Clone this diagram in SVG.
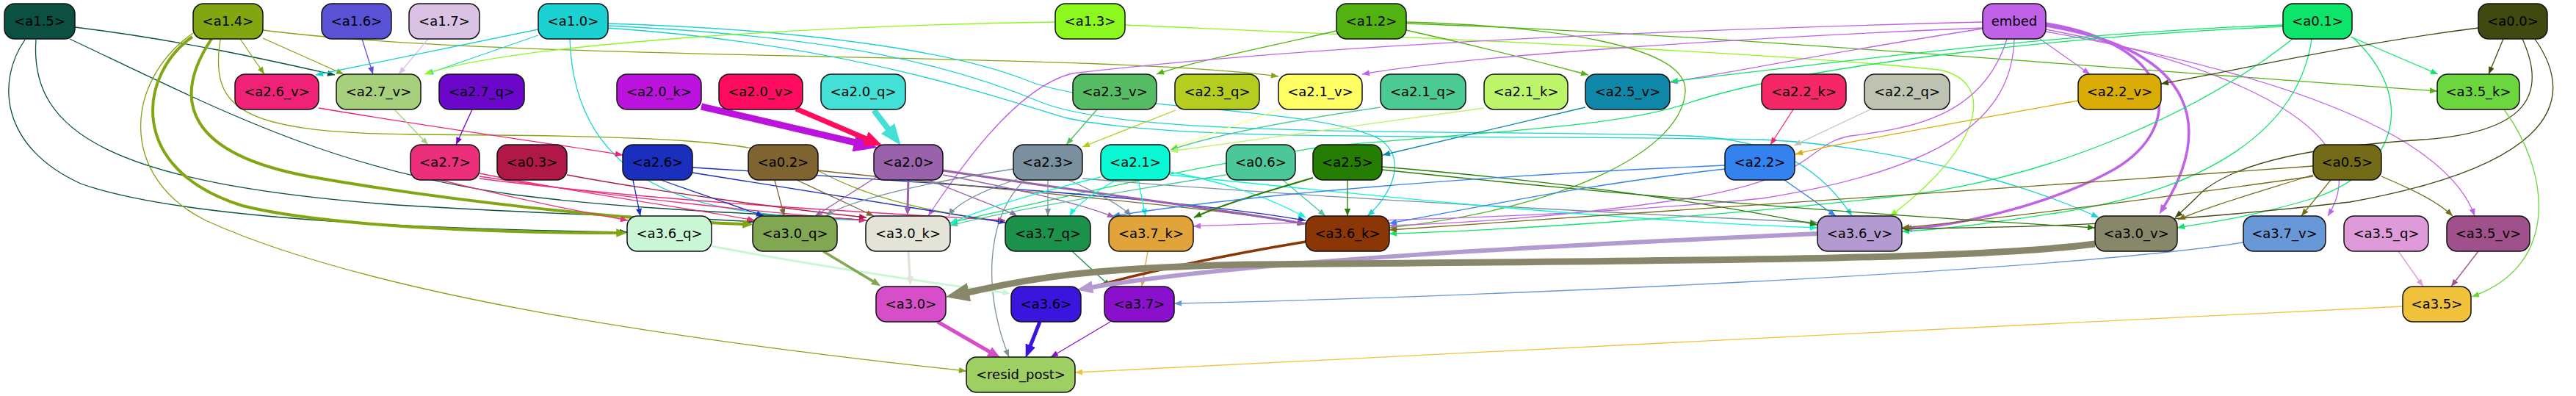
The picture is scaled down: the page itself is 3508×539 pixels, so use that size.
<svg xmlns="http://www.w3.org/2000/svg" width="3508" height="539" viewBox="0 0 3508 539">
<style>
.n rect{stroke:#111;stroke-width:1.5}
.n text{font-family:"DejaVu Sans","Liberation Sans",sans-serif;font-size:18px;text-anchor:middle;fill:#000}
#edges path{fill:none;stroke-width:1.3}
.s15{stroke:#0b5040;marker-end:url(#t15)}
.s14{stroke:#82a512;marker-end:url(#t14)}
.s16{stroke:#5a52d5;marker-end:url(#t16)}
.s17{stroke:#d9c2e3;marker-end:url(#t17)}
.s10{stroke:#1bd1d1;marker-end:url(#t10)}
.s13{stroke:#8cf81e;marker-end:url(#t13)}
.s12{stroke:#52b212;marker-end:url(#t12)}
.sem{stroke:#c062e8;marker-end:url(#tem)}
.s01{stroke:#0de46a;marker-end:url(#t01)}
.s00{stroke:#404a10;marker-end:url(#t00)}
.s26v{stroke:#f02277;marker-end:url(#t26v)}
.s27v{stroke:#a6d07c;marker-end:url(#t27v)}
.s27q{stroke:#6a07cb;marker-end:url(#t27q)}
.s20k{stroke:#bc12de}
.s20v{stroke:#ff0b60}
.s20q{stroke:#42e0d6}
.s23v{stroke:#56bc63;marker-end:url(#t23v)}
.s23q{stroke:#b5cd1f;marker-end:url(#t23q)}
.s21v{stroke:#ffff64;marker-end:url(#t21v)}
.s21q{stroke:#4bca94;marker-end:url(#t21q)}
.s21k{stroke:#bdf56a;marker-end:url(#t21k)}
.s25v{stroke:#0f87a9;marker-end:url(#t25v)}
.s22k{stroke:#f52766;marker-end:url(#t22k)}
.s22q{stroke:#bdc3b0;marker-end:url(#t22q)}
.s22v{stroke:#d9ad05;marker-end:url(#t22v)}
.s35k{stroke:#6cd63e;marker-end:url(#t35k)}
.s27{stroke:#eb2f7a;marker-end:url(#t27)}
.s03{stroke:#b01848;marker-end:url(#t03)}
.s26{stroke:#1a2fbe;marker-end:url(#t26)}
.s02{stroke:#7f6331;marker-end:url(#t02)}
.s20{stroke:#9a62aa;marker-end:url(#t20)}
.s23{stroke:#7a909e;marker-end:url(#t23)}
.s21{stroke:#0af8d4;marker-end:url(#t21)}
.s06{stroke:#4cc79a;marker-end:url(#t06)}
.s25{stroke:#267d04;marker-end:url(#t25)}
.s22{stroke:#3482ee;marker-end:url(#t22)}
.s05{stroke:#746b18;marker-end:url(#t05)}
.s36q{stroke:#c9f7d5}
.s30q{stroke:#82a752}
.s30k{stroke:#e4e3d8}
.s37q{stroke:#1b914c;marker-end:url(#t37q)}
.s37k{stroke:#e0a43a;marker-end:url(#t37k)}
.s36k{stroke:#8a3606}
.s36v{stroke:#b39bd2}
.s30v{stroke:#89876a}
.s37v{stroke:#6898d8;marker-end:url(#t37v)}
.s35q{stroke:#df9ad9;marker-end:url(#t35q)}
.s35v{stroke:#a0508a;marker-end:url(#t35v)}
.s30{stroke:#d74fc8}
.s36{stroke:#3a15dd}
.s37{stroke:#8a10ce;marker-end:url(#t37)}
.s35{stroke:#f0c23c;marker-end:url(#t35)}
</style>
<defs>
<marker id="t15" viewBox="0 0 10 8" refX="10" refY="4" markerWidth="11" markerHeight="8" markerUnits="userSpaceOnUse" orient="auto"><path d="M0,0L10,4L0,8z" fill="#0b5040"/></marker>
<marker id="t14" viewBox="0 0 10 8" refX="10" refY="4" markerWidth="11" markerHeight="8" markerUnits="userSpaceOnUse" orient="auto"><path d="M0,0L10,4L0,8z" fill="#82a512"/></marker>
<marker id="t16" viewBox="0 0 10 8" refX="10" refY="4" markerWidth="11" markerHeight="8" markerUnits="userSpaceOnUse" orient="auto"><path d="M0,0L10,4L0,8z" fill="#5a52d5"/></marker>
<marker id="t17" viewBox="0 0 10 8" refX="10" refY="4" markerWidth="11" markerHeight="8" markerUnits="userSpaceOnUse" orient="auto"><path d="M0,0L10,4L0,8z" fill="#d9c2e3"/></marker>
<marker id="t10" viewBox="0 0 10 8" refX="10" refY="4" markerWidth="11" markerHeight="8" markerUnits="userSpaceOnUse" orient="auto"><path d="M0,0L10,4L0,8z" fill="#1bd1d1"/></marker>
<marker id="t13" viewBox="0 0 10 8" refX="10" refY="4" markerWidth="11" markerHeight="8" markerUnits="userSpaceOnUse" orient="auto"><path d="M0,0L10,4L0,8z" fill="#8cf81e"/></marker>
<marker id="t12" viewBox="0 0 10 8" refX="10" refY="4" markerWidth="11" markerHeight="8" markerUnits="userSpaceOnUse" orient="auto"><path d="M0,0L10,4L0,8z" fill="#52b212"/></marker>
<marker id="tem" viewBox="0 0 10 8" refX="10" refY="4" markerWidth="11" markerHeight="8" markerUnits="userSpaceOnUse" orient="auto"><path d="M0,0L10,4L0,8z" fill="#c062e8"/></marker>
<marker id="t01" viewBox="0 0 10 8" refX="10" refY="4" markerWidth="11" markerHeight="8" markerUnits="userSpaceOnUse" orient="auto"><path d="M0,0L10,4L0,8z" fill="#0de46a"/></marker>
<marker id="t00" viewBox="0 0 10 8" refX="10" refY="4" markerWidth="11" markerHeight="8" markerUnits="userSpaceOnUse" orient="auto"><path d="M0,0L10,4L0,8z" fill="#404a10"/></marker>
<marker id="t26v" viewBox="0 0 10 8" refX="10" refY="4" markerWidth="11" markerHeight="8" markerUnits="userSpaceOnUse" orient="auto"><path d="M0,0L10,4L0,8z" fill="#f02277"/></marker>
<marker id="t27v" viewBox="0 0 10 8" refX="10" refY="4" markerWidth="11" markerHeight="8" markerUnits="userSpaceOnUse" orient="auto"><path d="M0,0L10,4L0,8z" fill="#a6d07c"/></marker>
<marker id="t27q" viewBox="0 0 10 8" refX="10" refY="4" markerWidth="11" markerHeight="8" markerUnits="userSpaceOnUse" orient="auto"><path d="M0,0L10,4L0,8z" fill="#6a07cb"/></marker>
<marker id="t23v" viewBox="0 0 10 8" refX="10" refY="4" markerWidth="11" markerHeight="8" markerUnits="userSpaceOnUse" orient="auto"><path d="M0,0L10,4L0,8z" fill="#56bc63"/></marker>
<marker id="t23q" viewBox="0 0 10 8" refX="10" refY="4" markerWidth="11" markerHeight="8" markerUnits="userSpaceOnUse" orient="auto"><path d="M0,0L10,4L0,8z" fill="#b5cd1f"/></marker>
<marker id="t21v" viewBox="0 0 10 8" refX="10" refY="4" markerWidth="11" markerHeight="8" markerUnits="userSpaceOnUse" orient="auto"><path d="M0,0L10,4L0,8z" fill="#ffff64"/></marker>
<marker id="t21q" viewBox="0 0 10 8" refX="10" refY="4" markerWidth="11" markerHeight="8" markerUnits="userSpaceOnUse" orient="auto"><path d="M0,0L10,4L0,8z" fill="#4bca94"/></marker>
<marker id="t21k" viewBox="0 0 10 8" refX="10" refY="4" markerWidth="11" markerHeight="8" markerUnits="userSpaceOnUse" orient="auto"><path d="M0,0L10,4L0,8z" fill="#bdf56a"/></marker>
<marker id="t25v" viewBox="0 0 10 8" refX="10" refY="4" markerWidth="11" markerHeight="8" markerUnits="userSpaceOnUse" orient="auto"><path d="M0,0L10,4L0,8z" fill="#0f87a9"/></marker>
<marker id="t22k" viewBox="0 0 10 8" refX="10" refY="4" markerWidth="11" markerHeight="8" markerUnits="userSpaceOnUse" orient="auto"><path d="M0,0L10,4L0,8z" fill="#f52766"/></marker>
<marker id="t22q" viewBox="0 0 10 8" refX="10" refY="4" markerWidth="11" markerHeight="8" markerUnits="userSpaceOnUse" orient="auto"><path d="M0,0L10,4L0,8z" fill="#bdc3b0"/></marker>
<marker id="t22v" viewBox="0 0 10 8" refX="10" refY="4" markerWidth="11" markerHeight="8" markerUnits="userSpaceOnUse" orient="auto"><path d="M0,0L10,4L0,8z" fill="#d9ad05"/></marker>
<marker id="t35k" viewBox="0 0 10 8" refX="10" refY="4" markerWidth="11" markerHeight="8" markerUnits="userSpaceOnUse" orient="auto"><path d="M0,0L10,4L0,8z" fill="#6cd63e"/></marker>
<marker id="t27" viewBox="0 0 10 8" refX="10" refY="4" markerWidth="11" markerHeight="8" markerUnits="userSpaceOnUse" orient="auto"><path d="M0,0L10,4L0,8z" fill="#eb2f7a"/></marker>
<marker id="t03" viewBox="0 0 10 8" refX="10" refY="4" markerWidth="11" markerHeight="8" markerUnits="userSpaceOnUse" orient="auto"><path d="M0,0L10,4L0,8z" fill="#b01848"/></marker>
<marker id="t26" viewBox="0 0 10 8" refX="10" refY="4" markerWidth="11" markerHeight="8" markerUnits="userSpaceOnUse" orient="auto"><path d="M0,0L10,4L0,8z" fill="#1a2fbe"/></marker>
<marker id="t02" viewBox="0 0 10 8" refX="10" refY="4" markerWidth="11" markerHeight="8" markerUnits="userSpaceOnUse" orient="auto"><path d="M0,0L10,4L0,8z" fill="#7f6331"/></marker>
<marker id="t20" viewBox="0 0 10 8" refX="10" refY="4" markerWidth="11" markerHeight="8" markerUnits="userSpaceOnUse" orient="auto"><path d="M0,0L10,4L0,8z" fill="#9a62aa"/></marker>
<marker id="t23" viewBox="0 0 10 8" refX="10" refY="4" markerWidth="11" markerHeight="8" markerUnits="userSpaceOnUse" orient="auto"><path d="M0,0L10,4L0,8z" fill="#7a909e"/></marker>
<marker id="t21" viewBox="0 0 10 8" refX="10" refY="4" markerWidth="11" markerHeight="8" markerUnits="userSpaceOnUse" orient="auto"><path d="M0,0L10,4L0,8z" fill="#0af8d4"/></marker>
<marker id="t06" viewBox="0 0 10 8" refX="10" refY="4" markerWidth="11" markerHeight="8" markerUnits="userSpaceOnUse" orient="auto"><path d="M0,0L10,4L0,8z" fill="#4cc79a"/></marker>
<marker id="t25" viewBox="0 0 10 8" refX="10" refY="4" markerWidth="11" markerHeight="8" markerUnits="userSpaceOnUse" orient="auto"><path d="M0,0L10,4L0,8z" fill="#267d04"/></marker>
<marker id="t22" viewBox="0 0 10 8" refX="10" refY="4" markerWidth="11" markerHeight="8" markerUnits="userSpaceOnUse" orient="auto"><path d="M0,0L10,4L0,8z" fill="#3482ee"/></marker>
<marker id="t05" viewBox="0 0 10 8" refX="10" refY="4" markerWidth="11" markerHeight="8" markerUnits="userSpaceOnUse" orient="auto"><path d="M0,0L10,4L0,8z" fill="#746b18"/></marker>
<marker id="t37q" viewBox="0 0 10 8" refX="10" refY="4" markerWidth="11" markerHeight="8" markerUnits="userSpaceOnUse" orient="auto"><path d="M0,0L10,4L0,8z" fill="#1b914c"/></marker>
<marker id="t37k" viewBox="0 0 10 8" refX="10" refY="4" markerWidth="11" markerHeight="8" markerUnits="userSpaceOnUse" orient="auto"><path d="M0,0L10,4L0,8z" fill="#e0a43a"/></marker>
<marker id="t37v" viewBox="0 0 10 8" refX="10" refY="4" markerWidth="11" markerHeight="8" markerUnits="userSpaceOnUse" orient="auto"><path d="M0,0L10,4L0,8z" fill="#6898d8"/></marker>
<marker id="t35q" viewBox="0 0 10 8" refX="10" refY="4" markerWidth="11" markerHeight="8" markerUnits="userSpaceOnUse" orient="auto"><path d="M0,0L10,4L0,8z" fill="#df9ad9"/></marker>
<marker id="t35v" viewBox="0 0 10 8" refX="10" refY="4" markerWidth="11" markerHeight="8" markerUnits="userSpaceOnUse" orient="auto"><path d="M0,0L10,4L0,8z" fill="#a0508a"/></marker>
<marker id="t37" viewBox="0 0 10 8" refX="10" refY="4" markerWidth="11" markerHeight="8" markerUnits="userSpaceOnUse" orient="auto"><path d="M0,0L10,4L0,8z" fill="#8a10ce"/></marker>
<marker id="t35" viewBox="0 0 10 8" refX="10" refY="4" markerWidth="11" markerHeight="8" markerUnits="userSpaceOnUse" orient="auto"><path d="M0,0L10,4L0,8z" fill="#f0c23c"/></marker>
<marker id="b14" viewBox="0 0 10 8" refX="0.5" refY="4" markerWidth="3.6" markerHeight="2.88" orient="auto"><path d="M0,0L10,4L0,8z" fill="#82a512"/></marker>
<marker id="b20k" viewBox="0 0 10 8" refX="0.5" refY="4" markerWidth="3.6" markerHeight="2.88" orient="auto"><path d="M0,0L10,4L0,8z" fill="#bc12de"/></marker>
<marker id="b20v" viewBox="0 0 10 8" refX="0.5" refY="4" markerWidth="3.6" markerHeight="2.88" orient="auto"><path d="M0,0L10,4L0,8z" fill="#ff0b60"/></marker>
<marker id="b20q" viewBox="0 0 10 8" refX="0.5" refY="4" markerWidth="3.6" markerHeight="2.88" orient="auto"><path d="M0,0L10,4L0,8z" fill="#42e0d6"/></marker>
<marker id="bem" viewBox="0 0 10 8" refX="0.5" refY="4" markerWidth="3.6" markerHeight="2.88" orient="auto"><path d="M0,0L10,4L0,8z" fill="#c062e8"/></marker>
<marker id="b20" viewBox="0 0 10 8" refX="0.5" refY="4" markerWidth="3.6" markerHeight="2.88" orient="auto"><path d="M0,0L10,4L0,8z" fill="#9a62aa"/></marker>
<marker id="b36q" viewBox="0 0 10 8" refX="0.5" refY="4" markerWidth="3.6" markerHeight="2.88" orient="auto"><path d="M0,0L10,4L0,8z" fill="#c9f7d5"/></marker>
<marker id="b30q" viewBox="0 0 10 8" refX="0.5" refY="4" markerWidth="3.6" markerHeight="2.88" orient="auto"><path d="M0,0L10,4L0,8z" fill="#82a752"/></marker>
<marker id="b30k" viewBox="0 0 10 8" refX="0.5" refY="4" markerWidth="3.6" markerHeight="2.88" orient="auto"><path d="M0,0L10,4L0,8z" fill="#e4e3d8"/></marker>
<marker id="b36k" viewBox="0 0 10 8" refX="0.5" refY="4" markerWidth="3.6" markerHeight="2.88" orient="auto"><path d="M0,0L10,4L0,8z" fill="#8a3606"/></marker>
<marker id="b36v" viewBox="0 0 10 8" refX="0.5" refY="4" markerWidth="3.6" markerHeight="2.88" orient="auto"><path d="M0,0L10,4L0,8z" fill="#b39bd2"/></marker>
<marker id="b30v" viewBox="0 0 10 8" refX="0.5" refY="4" markerWidth="3.6" markerHeight="2.88" orient="auto"><path d="M0,0L10,4L0,8z" fill="#89876a"/></marker>
<marker id="b30" viewBox="0 0 10 8" refX="0.5" refY="4" markerWidth="3.6" markerHeight="2.88" orient="auto"><path d="M0,0L10,4L0,8z" fill="#d74fc8"/></marker>
<marker id="b36" viewBox="0 0 10 8" refX="0.5" refY="4" markerWidth="3.6" markerHeight="2.88" orient="auto"><path d="M0,0L10,4L0,8z" fill="#3a15dd"/></marker>
</defs>
<g id="edges">
<path class="s15" d="M102,37 C250,55 380,85 456,102"/>
<path class="s15" d="M34,54 C-5,110 0,200 110,250 C250,300 600,312 854,316"/>
<path class="s15" d="M49,54 C40,180 150,250 540,279 C800,295 950,296 1027,302"/>
<path class="s15" d="M95,53 C300,150 450,230 700,265 C900,290 1100,292 1180,300"/>
<path class="s14" d="M327,53 L360,101"/>
<path class="s14" d="M358,52 L468,101"/>
<path class="s14" style="stroke-width:4;marker-end:url(#b14)" d="M262,50 C190,100 170,230 330,280 C450,310 700,317 840,317"/>
<path class="s14" style="stroke-width:4;marker-end:url(#b14)" d="M288,53 C230,140 260,210 420,240 C600,272 850,300 1012,305"/>
<path class="s14" d="M263,45 C170,110 160,240 280,300 C500,400 900,460 1316,505"/>
<path class="s14" d="M358,41 C700,85 1500,70 1741,104"/>
<path class="s14" d="M300,54 C285,150 330,180 560,183 C900,185 1050,190 1110,230 C1200,280 1300,292 1369,302"/>
<path class="s16" d="M493,53 L508,101"/>
<path class="s17" d="M583,53 L543,101"/>
<path class="s10" d="M733,40 L430,102"/>
<path class="s10" d="M733,48 L580,101"/>
<path class="s10" d="M776,53 C780,180 850,260 1000,285 C1100,300 1140,298 1180,300"/>
<path class="s10" d="M827,32 C1100,40 1300,70 1400,110 C1500,150 1800,145 1880,190 C1920,220 1890,270 1862,294"/>
<path class="s10" d="M827,35 C1150,50 1300,90 1420,140 C1550,190 2000,175 2300,185 C2420,190 2480,230 2522,294"/>
<path class="s10" d="M827,38 C1150,60 1350,130 1450,160 C1600,195 2000,182 2400,190 C2600,200 2780,260 2858,296"/>
<path class="s13" d="M1437,30 C1100,35 700,60 578,101"/>
<path class="s13" d="M1532,34 C1900,50 2400,70 2640,95 C2720,110 2700,200 2574,294"/>
<path class="s12" d="M1820,42 C1720,65 1620,85 1575,101"/>
<path class="s12" d="M1915,41 C2000,60 2100,85 2163,102"/>
<path class="s12" d="M1915,32 C2300,45 2700,80 3319,124"/>
<path class="s12" d="M1915,30 C2100,35 2300,60 2295,125 C2290,200 2150,280 1892,310"/>
<path class="sem" d="M2700,38 C2400,50 2000,75 1855,101"/>
<path class="sem" d="M2700,30 C2300,40 1800,60 1460,100 C1380,120 1300,240 1264,294"/>
<path class="sem" d="M2700,39 C2500,70 2350,100 2274,112"/>
<path class="sem" d="M2778,53 L2846,101"/>
<path class="sem" style="stroke-width:3.5;marker-end:url(#bem)" d="M2786,32 C2960,60 2980,170 2880,230 C2800,275 2680,305 2603,311"/>
<path class="sem" style="stroke-width:3.5;marker-end:url(#bem)" d="M2786,35 C3000,70 3010,180 2947,281"/>
<path class="sem" d="M2733,53 C2700,160 2600,175 2520,185 C2460,195 2480,240 2300,270 C2100,300 1950,305 1892,307"/>
<path class="sem" d="M2743,53 C2740,160 2650,230 2400,270 C2100,300 1800,300 1625,308"/>
<path class="sem" d="M2786,40 C3000,80 3250,170 3170,294"/>
<path class="sem" d="M2786,43 C3100,100 3330,180 3370,294"/>
<path class="s01" d="M3109,34 C2800,45 2500,85 2275,111"/>
<path class="s01" d="M3109,36 C2800,50 2450,90 2300,140 C2200,175 2000,180 1800,200 C1600,230 1400,280 1294,303"/>
<path class="s01" d="M3122,53 C3000,150 2800,240 2600,265 C2300,300 2000,315 1892,318"/>
<path class="s01" d="M3201,50 L3320,101"/>
<path class="s01" d="M3148,53 C3130,180 3000,260 2800,290 C2700,305 2650,312 2590,315"/>
<path class="s01" d="M3203,50 C3290,130 3270,230 3150,270 C3050,300 2990,305 2965,310"/>
<path class="s00" d="M3375,38 C3200,60 3050,95 2943,114"/>
<path class="s00" d="M3409,53 L3389,101"/>
<path class="s00" d="M3435,53 C3470,130 3440,180 3300,190 C3150,200 3050,220 3000,260 C2985,275 2975,285 2962,296"/>
<path class="s00" d="M3452,53 C3520,150 3450,230 3200,275 C2900,310 2700,310 2590,311"/>
<path class="s26v" d="M434,147 C600,175 750,195 848,211"/>
<path class="s27v" d="M537,149 L583,197"/>
<path class="s27q" d="M643,149 L621,197"/>
<path class="s20k" style="stroke-width:9;marker-end:url(#b20k)" d="M955,145 L1165,194"/>
<path class="s20v" style="stroke-width:7;marker-end:url(#b20v)" d="M1084,148 L1180,189"/>
<path class="s20q" style="stroke-width:8;marker-end:url(#b20q)" d="M1190,150 L1210,176"/>
<path class="s23v" d="M1494,149 L1452,197"/>
<path class="s23q" d="M1601,150 L1474,200"/>
<path class="s21v" d="M1745,148 L1594,202"/>
<path class="s21q" d="M1880,146 C1750,165 1650,185 1594,204"/>
<path class="s21k" d="M2021,147 C1850,170 1700,190 1594,206"/>
<path class="s25v" d="M2159,146 L1883,211"/>
<path class="s22k" d="M2442,149 L2411,197"/>
<path class="s22q" d="M2547,149 L2443,198"/>
<path class="s22v" d="M2830,137 C2650,170 2500,195 2445,210"/>
<path class="s35k" d="M3410,149 C3470,230 3490,360 3366,404"/>
<path class="s27" d="M600,245 C700,270 800,290 855,300"/>
<path class="s27" d="M653,236 C800,265 950,285 1028,300"/>
<path class="s27" d="M653,240 C850,270 1050,290 1180,300"/>
<path class="s27" d="M653,243 C900,275 1200,290 1369,300"/>
<path class="s03" d="M772,238 C900,262 1100,288 1180,296"/>
<path class="s26" d="M862,245 L872,294"/>
<path class="s26" d="M900,245 L1040,294"/>
<path class="s26" d="M943,235 C1100,260 1250,285 1369,303"/>
<path class="s26" d="M943,228 C1300,250 1600,270 1778,300"/>
<path class="s02" d="M1055,245 L1068,294"/>
<path class="s02" d="M1085,245 L1190,294"/>
<path class="s02" d="M1114,232 C1400,262 1650,282 1778,305"/>
<path class="s20" style="stroke-width:3;marker-end:url(#b20)" d="M1237,245 L1236,283"/>
<path class="s20" d="M1195,240 L1110,294"/>
<path class="s20" d="M1265,245 C1320,268 1370,285 1385,294"/>
<path class="s20" d="M1284,238 C1400,260 1480,280 1518,296"/>
<path class="s20" style="stroke-width:3;marker-end:url(#b20)" d="M1284,232 C1500,265 1700,290 1767,303"/>
<path class="s23" d="M1427,245 L1427,294"/>
<path class="s23" d="M1385,244 C1330,262 1300,280 1292,294"/>
<path class="s23" d="M1455,245 C1500,265 1530,282 1540,294"/>
<path class="s23" d="M1395,245 C1340,300 1340,400 1374,486"/>
<path class="s23" d="M1474,243 C1800,270 2200,290 2475,303"/>
<path class="s23" d="M1380,230 C1250,250 1150,275 1125,294"/>
<path class="s21" d="M1520,245 C1480,268 1462,284 1457,294"/>
<path class="s21" d="M1550,245 L1560,294"/>
<path class="s21" d="M1499,241 C1400,265 1320,290 1294,305"/>
<path class="s21" d="M1593,234 C1680,250 1740,275 1778,296"/>
<path class="s21" d="M1593,238 C1900,270 2200,300 2475,310"/>
<path class="s06" d="M1747,245 L1805,294"/>
<path class="s06" d="M1670,238 C1500,265 1350,292 1294,307"/>
<path class="s25" d="M1835,245 L1835,294"/>
<path class="s25" style="stroke-width:2" d="M1788,242 C1720,262 1660,280 1626,296"/>
<path class="s25" d="M1882,227 C2100,245 2300,270 2475,306"/>
<path class="s25" d="M1882,231 C2300,275 2600,295 2853,310"/>
<path class="s22" d="M2430,245 L2500,294"/>
<path class="s22" d="M2349,225 C2000,240 1700,265 1515,294"/>
<path class="s22" d="M2349,230 C2150,252 2000,285 1892,304"/>
<path class="s05" d="M3174,245 L3134,294"/>
<path class="s05" d="M3243,240 C3290,260 3320,275 3340,294"/>
<path class="s05" d="M3150,238 C3080,260 3010,280 2966,299"/>
<path class="s05" d="M3150,226 C2700,260 2200,290 1892,313"/>
<path class="s05" d="M3150,240 C2900,275 2700,300 2590,310"/>
<path class="s36q" style="stroke-width:3;marker-end:url(#b36q)" d="M969,335 C1100,360 1300,390 1366,398"/>
<path class="s30q" style="stroke-width:3.5;marker-end:url(#b30q)" d="M1121,342 L1189,383"/>
<path class="s30k" style="stroke-width:3.5;marker-end:url(#b30k)" d="M1237,342 L1239,377"/>
<path class="s37q" d="M1460,342 L1512,390"/>
<path class="s37k" d="M1563,342 L1555,390"/>
<path class="s36k" style="stroke-width:3.5;marker-end:url(#b36k)" d="M1778,329 C1650,350 1540,375 1483,392"/>
<path class="s36v" style="stroke-width:6;marker-end:url(#b36v)" d="M2475,318 C2100,335 1700,355 1487,391"/>
<path class="s30v" style="stroke-width:9;marker-end:url(#b30v)" d="M2853,332 C2700,352 2400,354 1700,360 C1450,365 1380,385 1318,398"/>
<path class="s37v" d="M3055,330 C2800,370 2000,405 1599,413"/>
<path class="s35q" d="M3266,342 L3300,390"/>
<path class="s35v" d="M3375,342 L3338,390"/>
<path class="s30" style="stroke-width:5;marker-end:url(#b30)" d="M1277,438 L1348,479"/>
<path class="s36" style="stroke-width:5;marker-end:url(#b36)" d="M1416,438 L1403,471"/>
<path class="s37" d="M1512,438 L1431,486"/>
<path class="s35" d="M3272,417 C2700,445 2000,480 1464,507"/>
</g>
<g id="nodes">
<g id="node-a1_5" class="n"><rect x="6" y="5" width="96" height="48" rx="14" fill="#0b5040"/><text x="54" y="35">&lt;a1.5&gt;</text></g>
<g id="node-a1_4" class="n"><rect x="263" y="5" width="95" height="48" rx="14" fill="#82a512"/><text x="310.5" y="35">&lt;a1.4&gt;</text></g>
<g id="node-a1_6" class="n"><rect x="438" y="5" width="95" height="48" rx="14" fill="#5a52d5"/><text x="485.5" y="35">&lt;a1.6&gt;</text></g>
<g id="node-a1_7" class="n"><rect x="557" y="5" width="96" height="48" rx="14" fill="#d9c2e3"/><text x="605" y="35">&lt;a1.7&gt;</text></g>
<g id="node-a1_0" class="n"><rect x="733" y="5" width="95" height="48" rx="14" fill="#1bd1d1"/><text x="780.5" y="35">&lt;a1.0&gt;</text></g>
<g id="node-a1_3" class="n"><rect x="1437" y="5" width="95" height="48" rx="14" fill="#8cf81e"/><text x="1484.5" y="35">&lt;a1.3&gt;</text></g>
<g id="node-a1_2" class="n"><rect x="1820" y="5" width="95" height="48" rx="14" fill="#52b212"/><text x="1867.5" y="35">&lt;a1.2&gt;</text></g>
<g id="node-embed" class="n"><rect x="2700" y="5" width="86" height="48" rx="14" fill="#c062e8"/><text x="2743" y="35">embed</text></g>
<g id="node-a0_1" class="n"><rect x="3109" y="5" width="94" height="48" rx="14" fill="#0de46a"/><text x="3156" y="35">&lt;a0.1&gt;</text></g>
<g id="node-a0_0" class="n"><rect x="3375" y="5" width="94" height="48" rx="14" fill="#404a10"/><text x="3422" y="35">&lt;a0.0&gt;</text></g>
<g id="node-a2_6_v" class="n"><rect x="320" y="101" width="114" height="48" rx="14" fill="#f02277"/><text x="377" y="131">&lt;a2.6_v&gt;</text></g>
<g id="node-a2_7_v" class="n"><rect x="458" y="101" width="115" height="48" rx="14" fill="#a6d07c"/><text x="515.5" y="131">&lt;a2.7_v&gt;</text></g>
<g id="node-a2_7_q" class="n"><rect x="598" y="101" width="116" height="48" rx="14" fill="#6a07cb"/><text x="656" y="131">&lt;a2.7_q&gt;</text></g>
<g id="node-a2_0_k" class="n"><rect x="840" y="101" width="115" height="48" rx="14" fill="#bc12de"/><text x="897.5" y="131">&lt;a2.0_k&gt;</text></g>
<g id="node-a2_0_v" class="n"><rect x="979" y="101" width="114" height="48" rx="14" fill="#ff0b60"/><text x="1036" y="131">&lt;a2.0_v&gt;</text></g>
<g id="node-a2_0_q" class="n"><rect x="1118" y="101" width="115" height="48" rx="14" fill="#42e0d6"/><text x="1175.5" y="131">&lt;a2.0_q&gt;</text></g>
<g id="node-a2_3_v" class="n"><rect x="1461" y="101" width="114" height="48" rx="14" fill="#56bc63"/><text x="1518" y="131">&lt;a2.3_v&gt;</text></g>
<g id="node-a2_3_q" class="n"><rect x="1600" y="101" width="115" height="48" rx="14" fill="#b5cd1f"/><text x="1657.5" y="131">&lt;a2.3_q&gt;</text></g>
<g id="node-a2_1_v" class="n"><rect x="1741" y="101" width="114" height="48" rx="14" fill="#ffff64"/><text x="1798" y="131">&lt;a2.1_v&gt;</text></g>
<g id="node-a2_1_q" class="n"><rect x="1880" y="101" width="116" height="48" rx="14" fill="#4bca94"/><text x="1938" y="131">&lt;a2.1_q&gt;</text></g>
<g id="node-a2_1_k" class="n"><rect x="2021" y="101" width="114" height="48" rx="14" fill="#bdf56a"/><text x="2078" y="131">&lt;a2.1_k&gt;</text></g>
<g id="node-a2_5_v" class="n"><rect x="2159" y="101" width="115" height="48" rx="14" fill="#0f87a9"/><text x="2216.5" y="131">&lt;a2.5_v&gt;</text></g>
<g id="node-a2_2_k" class="n"><rect x="2399" y="101" width="115" height="48" rx="14" fill="#f52766"/><text x="2456.5" y="131">&lt;a2.2_k&gt;</text></g>
<g id="node-a2_2_q" class="n"><rect x="2539" y="101" width="116" height="48" rx="14" fill="#bdc3b0"/><text x="2597" y="131">&lt;a2.2_q&gt;</text></g>
<g id="node-a2_2_v" class="n"><rect x="2830" y="101" width="113" height="48" rx="14" fill="#d9ad05"/><text x="2886.5" y="131">&lt;a2.2_v&gt;</text></g>
<g id="node-a3_5_k" class="n"><rect x="3319" y="101" width="112" height="48" rx="14" fill="#6cd63e"/><text x="3375" y="131">&lt;a3.5_k&gt;</text></g>
<g id="node-a2_7" class="n"><rect x="559" y="197" width="94" height="48" rx="14" fill="#eb2f7a"/><text x="606" y="227">&lt;a2.7&gt;</text></g>
<g id="node-a0_3" class="n"><rect x="677" y="197" width="95" height="48" rx="14" fill="#b01848"/><text x="724.5" y="227">&lt;a0.3&gt;</text></g>
<g id="node-a2_6" class="n"><rect x="848" y="197" width="95" height="48" rx="14" fill="#1a2fbe"/><text x="895.5" y="227">&lt;a2.6&gt;</text></g>
<g id="node-a0_2" class="n"><rect x="1019" y="197" width="95" height="48" rx="14" fill="#7f6331"/><text x="1066.5" y="227">&lt;a0.2&gt;</text></g>
<g id="node-a2_0" class="n"><rect x="1190" y="197" width="94" height="48" rx="14" fill="#9a62aa"/><text x="1237" y="227">&lt;a2.0&gt;</text></g>
<g id="node-a2_3" class="n"><rect x="1380" y="197" width="94" height="48" rx="14" fill="#7a909e"/><text x="1427" y="227">&lt;a2.3&gt;</text></g>
<g id="node-a2_1" class="n"><rect x="1499" y="197" width="94" height="48" rx="14" fill="#0af8d4"/><text x="1546" y="227">&lt;a2.1&gt;</text></g>
<g id="node-a0_6" class="n"><rect x="1670" y="197" width="94" height="48" rx="14" fill="#4cc79a"/><text x="1717" y="227">&lt;a0.6&gt;</text></g>
<g id="node-a2_5" class="n"><rect x="1788" y="197" width="94" height="48" rx="14" fill="#267d04"/><text x="1835" y="227">&lt;a2.5&gt;</text></g>
<g id="node-a2_2" class="n"><rect x="2349" y="197" width="95" height="48" rx="14" fill="#3482ee"/><text x="2396.5" y="227">&lt;a2.2&gt;</text></g>
<g id="node-a0_5" class="n"><rect x="3150" y="197" width="93" height="48" rx="14" fill="#746b18"/><text x="3196.5" y="227">&lt;a0.5&gt;</text></g>
<g id="node-a3_6_q" class="n"><rect x="854" y="294" width="115" height="48" rx="14" fill="#c9f7d5"/><text x="911.5" y="324">&lt;a3.6_q&gt;</text></g>
<g id="node-a3_0_q" class="n"><rect x="1025" y="294" width="115" height="48" rx="14" fill="#82a752"/><text x="1082.5" y="324">&lt;a3.0_q&gt;</text></g>
<g id="node-a3_0_k" class="n"><rect x="1179" y="294" width="115" height="48" rx="14" fill="#e4e3d8"/><text x="1236.5" y="324">&lt;a3.0_k&gt;</text></g>
<g id="node-a3_7_q" class="n"><rect x="1369" y="294" width="116" height="48" rx="14" fill="#1b914c"/><text x="1427" y="324">&lt;a3.7_q&gt;</text></g>
<g id="node-a3_7_k" class="n"><rect x="1510" y="294" width="115" height="48" rx="14" fill="#e0a43a"/><text x="1567.5" y="324">&lt;a3.7_k&gt;</text></g>
<g id="node-a3_6_k" class="n"><rect x="1778" y="294" width="114" height="48" rx="14" fill="#8a3606"/><text x="1835" y="324">&lt;a3.6_k&gt;</text></g>
<g id="node-a3_6_v" class="n"><rect x="2475" y="294" width="115" height="48" rx="14" fill="#b39bd2"/><text x="2532.5" y="324">&lt;a3.6_v&gt;</text></g>
<g id="node-a3_0_v" class="n"><rect x="2853" y="294" width="112" height="48" rx="14" fill="#89876a"/><text x="2909" y="324">&lt;a3.0_v&gt;</text></g>
<g id="node-a3_7_v" class="n"><rect x="3055" y="294" width="112" height="48" rx="14" fill="#6898d8"/><text x="3111" y="324">&lt;a3.7_v&gt;</text></g>
<g id="node-a3_5_q" class="n"><rect x="3192" y="294" width="115" height="48" rx="14" fill="#df9ad9"/><text x="3249.5" y="324">&lt;a3.5_q&gt;</text></g>
<g id="node-a3_5_v" class="n"><rect x="3332" y="294" width="113" height="48" rx="14" fill="#a0508a"/><text x="3388.5" y="324">&lt;a3.5_v&gt;</text></g>
<g id="node-a3_0" class="n"><rect x="1193" y="390" width="95" height="48" rx="14" fill="#d74fc8"/><text x="1240.5" y="420">&lt;a3.0&gt;</text></g>
<g id="node-a3_6" class="n"><rect x="1377" y="390" width="95" height="48" rx="14" fill="#3a15dd"/><text x="1424.5" y="420">&lt;a3.6&gt;</text></g>
<g id="node-a3_7" class="n"><rect x="1504" y="390" width="95" height="48" rx="14" fill="#8a10ce"/><text x="1551.5" y="420">&lt;a3.7&gt;</text></g>
<g id="node-a3_5" class="n"><rect x="3272" y="390" width="93" height="48" rx="14" fill="#f0c23c"/><text x="3318.5" y="420">&lt;a3.5&gt;</text></g>
<g id="node-resid_post" class="n"><rect x="1316" y="486" width="148" height="48" rx="14" fill="#9ecf62"/><text x="1390" y="516">&lt;resid_post&gt;</text></g>
</g>
</svg>
